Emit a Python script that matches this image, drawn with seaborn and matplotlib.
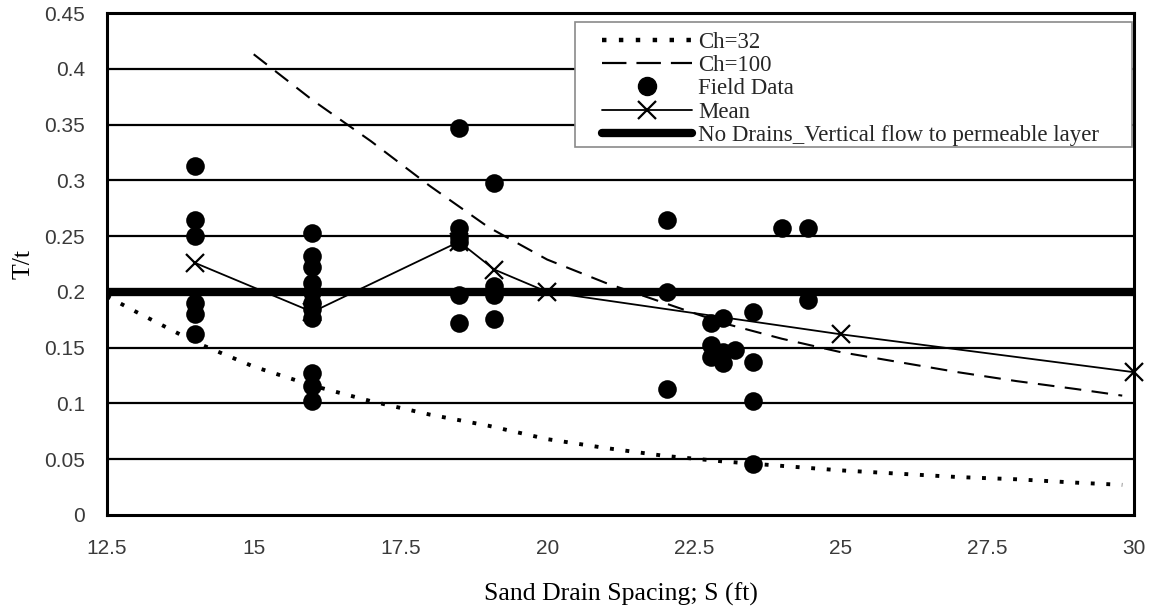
import numpy as np
import pandas as pd
import matplotlib
matplotlib.use("Agg")
import matplotlib.pyplot as plt
import seaborn as sns
from matplotlib.lines import Line2D
from matplotlib.patches import Rectangle

# --- data ---
field_s = [14, 14, 14, 14, 14, 14,
           16, 16, 16, 16, 16, 16, 16, 16, 16, 16, 16,
           18.5, 18.5, 18.5, 18.5, 18.5, 18.5,
           19.1, 19.1, 19.1, 19.1,
           22.05, 22.05, 22.05,
           22.8, 22.8, 22.8,
           23.0, 23.0, 23.0,
           23.2,
           23.5, 23.5, 23.5, 23.5,
           24.0,
           24.45, 24.45]
field_t = [0.313, 0.264, 0.250, 0.190, 0.180, 0.162,
           0.253, 0.232, 0.222, 0.208, 0.200, 0.190, 0.185, 0.177, 0.127, 0.116, 0.102,
           0.347, 0.257, 0.249, 0.245, 0.197, 0.172,
           0.298, 0.205, 0.197, 0.176,
           0.264, 0.200, 0.113,
           0.172, 0.152, 0.142,
           0.177, 0.146, 0.136,
           0.148,
           0.182, 0.137, 0.102, 0.046,
           0.257,
           0.257, 0.193]

mean_s = [14, 16, 18.5, 19.1, 20, 25, 30]
mean_t = [0.226, 0.182, 0.245, 0.220, 0.200, 0.162, 0.128]

ch32_s = [12.5, 13, 14, 15, 16, 17, 18, 19, 20, 21, 22, 23, 24, 25, 26, 27, 28, 29, 29.8]
ch32_t = [0.196, 0.182, 0.155, 0.133, 0.116, 0.102, 0.090, 0.080, 0.068, 0.060,
          0.053, 0.048, 0.044, 0.040, 0.037, 0.034, 0.032, 0.029, 0.027]

ch100_s = [15, 16, 17, 18, 19, 20, 21, 22, 23, 24, 25, 26, 27, 28, 29, 29.8]
ch100_t = [0.413, 0.372, 0.335, 0.295, 0.258, 0.229, 0.208, 0.190, 0.172, 0.158,
           0.146, 0.137, 0.128, 0.120, 0.113, 0.107]

no_drains_t = 0.2

x_ticks = [12.5, 15, 17.5, 20, 22.5, 25, 27.5, 30]
x_tick_labels = ["12.5", "15", "17.5", "20", "22.5", "25", "27.5", "30"]
y_ticks = [0, 0.05, 0.1, 0.15, 0.2, 0.25, 0.3, 0.35, 0.4, 0.45]
y_tick_labels = ["0", "0.05", "0.1", "0.15", "0.2", "0.25", "0.3", "0.35", "0.4", "0.45"]

sns.set_theme(style="white")
plt.rcParams["font.family"] = ["Liberation Sans", "DejaVu Sans"]

fig = plt.figure(figsize=(11.53, 6.08), dpi=100)
ax = fig.add_axes([0.0928, 0.153, 0.8907, 0.8256])

# horizontal grid
for yv in y_ticks[1:]:
    ax.axhline(yv, color="black", lw=1.6, zorder=1)

sns.lineplot(x=ch32_s, y=ch32_t, ax=ax, color="black", lw=2.8,
             linestyle=(0, (1.0, 3.0)), zorder=3)
sns.lineplot(x=ch100_s, y=ch100_t, ax=ax, color="black", lw=1.5,
             linestyle=(0, (8, 5)), zorder=3)
ax.axhline(no_drains_t, color="black", lw=6, zorder=4)
sns.scatterplot(x=field_s, y=field_t, ax=ax, color="black", s=180,
                edgecolor="black", linewidth=0, zorder=5)
sns.lineplot(x=mean_s, y=mean_t, ax=ax, color="black", lw=1.3, marker="x",
             markersize=13, markeredgewidth=1.6, markeredgecolor="black",
             markerfacecolor="black", zorder=6, clip_on=False)

ax.set_xlim(12.5, 30)
ax.set_ylim(0, 0.45)
ax.set_xticks(x_ticks)
ax.set_xticklabels(x_tick_labels)
ax.set_yticks(y_ticks)
ax.set_yticklabels(y_tick_labels)
ax.tick_params(axis="x", direction="in", length=6, width=2, colors="black",
               labelcolor="#3a3a3a", labelsize=15, pad=17)
ax.tick_params(axis="y", length=0, labelcolor="#3a3a3a", labelsize=15, pad=16)

for sp in ax.spines.values():
    sp.set_color("black")
    sp.set_linewidth(2.2)

ax.set_xlabel("Sand Drain Spacing; S (ft)", family="Liberation Serif",
              fontsize=18.5, color="black", labelpad=18)
ax.set_ylabel("T/t", family="Liberation Serif", fontsize=18.5, color="black", labelpad=7)

# legend frame
frame = Rectangle((0.4557, 0.733), 0.5423, 0.249, transform=ax.transAxes,
                  facecolor="white", edgecolor="#8a8a8a", lw=1.2, zorder=9)
ax.add_patch(frame)

handles = [
    Line2D([], [], color="black", lw=3.2, linestyle=(0, (1.0, 2.8))),
    Line2D([], [], color="black", lw=1.6, linestyle=(0, (11, 4.5))),
    Line2D([], [], color="black", lw=0, marker="o", markersize=13),
    Line2D([], [], color="black", lw=1.3, marker="x", markersize=13, markeredgewidth=1.6),
    Line2D([], [], color="black", lw=6),
]
labels = ["Ch=32", "Ch=100", "Field Data", "Mean",
          "No Drains_Vertical flow to permeable layer"]
leg = ax.legend(handles, labels, loc="upper left",
                bbox_to_anchor=(0.482, 0.963),
                frameon=False,
                prop={"family": "Liberation Serif", "size": 16.5},
                handlelength=3.93, handletextpad=0.26, labelspacing=0.1,
                borderpad=0, borderaxespad=0)
leg.set_zorder(10)

fig.savefig("out.png", dpi=100)
